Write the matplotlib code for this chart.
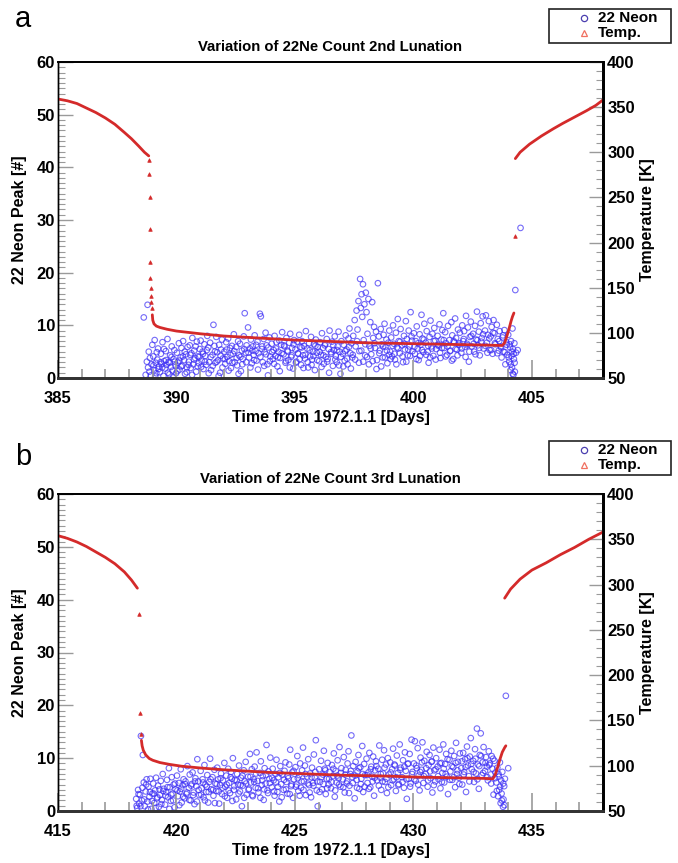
import matplotlib.pyplot as plt
import numpy as np
from matplotlib.lines import Line2D
from matplotlib.patches import Rectangle
from matplotlib.ticker import MultipleLocator

plt.rcParams['font.family'] = ['Liberation Sans Narrow', 'Liberation Sans', 'DejaVu Sans']
plt.rcParams['font.weight'] = 'bold'
plt.rcParams['axes.titleweight'] = 'bold'
plt.rcParams['axes.labelweight'] = 'bold'

# ---------- panel a : 2nd lunation ----------
a_title = 'Variation of 22Ne Count 2nd Lunation'
a_xlim = (385, 408)

# temperature [K], lunar day before sunset
a_day_t = [385.0, 385.4, 385.8, 386.2, 386.6, 387.0, 387.4, 387.8, 388.1, 388.4, 388.65, 388.83]
a_day_k = [359, 357, 354, 349, 344, 338, 331, 322, 315, 307, 300, 296]
# isolated readings during sunset / sunrise
a_jump_t = [388.85, 388.86, 388.87, 388.88, 388.89, 388.90, 388.91, 388.92, 388.94, 388.96, 404.28]
a_jump_k = [292, 276, 251, 215, 178, 161, 150, 141, 134, 127, 207]
# night
a_night_t = [388.98, 389.0, 389.05, 389.15, 389.3, 389.6, 390.0, 390.5, 391.0, 392.0, 393.0, 394.0,
             395.0, 396.0, 397.0, 398.0, 399.0, 400.0, 401.0, 402.0, 403.0, 403.75, 403.85,
             403.95, 404.05, 404.12, 404.18, 404.24]
a_night_k = [120, 114, 110, 107.5, 106, 104, 102, 100.5, 99, 96.5, 95, 93.5,
             92, 91, 90, 89, 88.5, 88, 87.5, 87, 86.5, 86, 89,
             97, 106, 113, 118, 122]
# after sunrise
a_morn_t = [404.3, 404.5, 404.9, 405.4, 405.9, 406.3, 406.8, 407.3, 407.7, 408.0]
a_morn_k = [293, 300, 309, 318, 326, 332, 339, 346, 352, 358]

# 22Ne peak counts (day, count)
a_neon = [
    (388.62, 11.5), (388.70, 0.6), (388.75, 3.1), (388.78, 13.9), (388.80, 2.0), (388.83, 5.0),
    (388.86, 1.2), (388.88, 3.8), (388.92, 0.5), (388.95, 2.6), (388.98, 6.3),
    (389.02, 4.1), (389.05, 1.5), (389.08, 7.2), (389.12, 2.9), (389.15, 0.9), (389.19, 3.5),
    (389.22, 5.6), (389.26, 2.2), (389.30, 1.1), (389.34, 4.6), (389.37, 2.7), (389.41, 6.8),
    (389.45, 0.4), (389.48, 3.2),
    (389.52, 1.8), (389.55, 5.1), (389.58, 2.5), (389.62, 7.4), (389.66, 3.0), (389.70, 0.7),
    (389.73, 4.3), (389.77, 2.1), (389.80, 6.0), (389.84, 1.4), (389.88, 3.6), (389.91, 5.3),
    (389.95, 2.4), (389.98, 0.9),
    (390.02, 4.8), (390.06, 2.9), (390.10, 6.6), (390.13, 1.6), (390.17, 3.9), (390.21, 5.7),
    (390.24, 2.3), (390.28, 7.0), (390.32, 3.4), (390.36, 0.8), (390.40, 4.5), (390.44, 2.0),
    (390.47, 5.9),
    (390.52, 3.1), (390.56, 6.2), (390.60, 1.9), (390.63, 4.7), (390.67, 7.6), (390.71, 2.6),
    (390.75, 5.2), (390.79, 3.8), (390.83, 1.2), (390.86, 6.9), (390.90, 4.1), (390.94, 2.8),
    (390.98, 5.5),
    (391.02, 7.1), (391.06, 3.3), (391.10, 5.0), (391.14, 1.7), (391.18, 6.4), (391.22, 4.2),
    (391.26, 2.5), (391.30, 8.0), (391.34, 5.8), (391.38, 3.0), (391.42, 6.7), (391.46, 1.5),
    (391.52, 4.4), (391.56, 10.1), (391.60, 6.1), (391.64, 2.9), (391.68, 7.8), (391.72, 4.9),
    (391.76, 3.4), (391.80, 6.3), (391.84, 1.0), (391.88, 5.4), (391.92, 7.3), (391.96, 3.7),
    (392.02, 5.0), (392.06, 2.7), (392.10, 6.8), (392.14, 4.0), (392.18, 7.5), (392.22, 3.2),
    (392.26, 5.7), (392.30, 1.9), (392.34, 6.1), (392.38, 4.6), (392.42, 8.3), (392.46, 3.0),
    (392.52, 5.9), (392.56, 2.4), (392.60, 7.0), (392.64, 4.3), (392.68, 6.5), (392.72, 1.3),
    (392.76, 5.2), (392.80, 3.6), (392.84, 7.9), (392.88, 12.3), (392.92, 4.8), (392.96, 6.2),
    (393.02, 9.6), (393.06, 3.9), (393.10, 5.6), (393.14, 7.3), (393.18, 2.8), (393.22, 6.0),
    (393.26, 4.4), (393.30, 8.1), (393.34, 5.1), (393.38, 3.3), (393.42, 6.9), (393.46, 4.7),
    (393.52, 12.2), (393.56, 11.7), (393.60, 5.5), (393.64, 3.0), (393.68, 7.4), (393.72, 4.9),
    (393.76, 8.6), (393.80, 6.2), (393.84, 2.6), (393.88, 5.8), (393.92, 7.7), (393.96, 4.1),
    (394.02, 6.5), (394.06, 3.6), (394.10, 5.3), (394.14, 8.0), (394.18, 4.2), (394.22, 6.8),
    (394.26, 2.2), (394.30, 5.0), (394.34, 7.1), (394.38, 3.8), (394.42, 6.3), (394.46, 8.7),
    (394.52, 4.5), (394.56, 6.0), (394.60, 2.9), (394.64, 7.6), (394.68, 5.2), (394.72, 3.4),
    (394.76, 6.7), (394.80, 8.4), (394.84, 4.0), (394.88, 5.7), (394.92, 1.8), (394.96, 7.2),
    (395.02, 5.4), (395.06, 3.1), (395.10, 6.9), (395.14, 4.6), (395.18, 8.2), (395.22, 5.9),
    (395.26, 2.5), (395.30, 7.0), (395.34, 4.3), (395.38, 6.1), (395.42, 3.7), (395.46, 8.9),
    (395.52, 5.6), (395.56, 2.0), (395.60, 6.6), (395.64, 4.1), (395.68, 7.8), (395.72, 3.5),
    (395.76, 5.0), (395.80, 6.4), (395.84, 1.5), (395.88, 7.3), (395.92, 4.8), (395.96, 5.9),
    (396.02, 3.2), (396.06, 6.8), (396.10, 4.4), (396.14, 8.5), (396.18, 5.7), (396.22, 2.7),
    (396.26, 6.2), (396.30, 4.0), (396.34, 7.4), (396.38, 3.6), (396.42, 5.5), (396.46, 9.0),
    (396.52, 4.9), (396.56, 6.9), (396.60, 2.3), (396.64, 5.3), (396.68, 7.9), (396.72, 4.2),
    (396.76, 3.0), (396.80, 6.0), (396.84, 8.8), (396.88, 5.0), (396.92, 0.8), (396.96, 7.0),
    (397.02, 4.6), (397.06, 6.3), (397.10, 3.3), (397.14, 8.1), (397.18, 5.4), (397.22, 2.6),
    (397.26, 7.5), (397.30, 9.4), (397.34, 4.7), (397.38, 6.6), (397.42, 3.9), (397.46, 8.0),
    (397.52, 11.0), (397.56, 6.0), (397.60, 12.8), (397.64, 9.2), (397.68, 14.6), (397.72, 5.1),
    (397.75, 18.8), (397.78, 13.3), (397.81, 15.9), (397.84, 11.6), (397.87, 17.8), (397.90, 7.2),
    (397.93, 14.0), (397.96, 4.3), (397.99, 16.2),
    (398.02, 12.5), (398.06, 8.4), (398.10, 15.0), (398.14, 6.1), (398.18, 10.6), (398.22, 4.5),
    (398.26, 14.4), (398.30, 7.6), (398.34, 9.7), (398.38, 5.7), (398.42, 8.8), (398.46, 3.4),
    (398.50, 18.0), (398.54, 7.9), (398.58, 5.2), (398.62, 9.3), (398.66, 6.4), (398.70, 3.9),
    (398.74, 8.2), (398.78, 10.3), (398.82, 5.9), (398.86, 7.3), (398.90, 2.8), (398.94, 6.7),
    (398.98, 9.0),
    (399.02, 5.0), (399.06, 7.7), (399.10, 4.1), (399.14, 10.0), (399.18, 6.5), (399.22, 3.5),
    (399.26, 8.6), (399.30, 5.8), (399.34, 11.2), (399.38, 7.0), (399.42, 4.7), (399.46, 9.3),
    (399.52, 6.2), (399.56, 3.0), (399.60, 8.0), (399.64, 5.4), (399.68, 10.8), (399.72, 7.4),
    (399.76, 4.3), (399.80, 9.0), (399.84, 6.0), (399.88, 12.5), (399.92, 7.9), (399.96, 5.1),
    (400.02, 8.5), (400.06, 4.6), (400.10, 7.0), (400.14, 9.8), (400.18, 5.6), (400.22, 3.4),
    (400.26, 8.3), (400.30, 6.3), (400.34, 12.0), (400.38, 7.5), (400.42, 4.9), (400.46, 10.3),
    (400.52, 6.7), (400.56, 8.9), (400.60, 5.0), (400.64, 2.9), (400.68, 7.8), (400.72, 10.9),
    (400.76, 6.0), (400.80, 8.4), (400.84, 4.2), (400.88, 9.5), (400.92, 7.1), (400.96, 5.5),
    (401.02, 8.0), (401.06, 6.1), (401.10, 10.2), (401.14, 3.8), (401.18, 7.3), (401.22, 9.1),
    (401.26, 12.3), (401.30, 5.7), (401.34, 8.7), (401.38, 6.6), (401.42, 4.4), (401.46, 9.9),
    (401.52, 7.2), (401.56, 5.2), (401.60, 10.6), (401.64, 8.1), (401.68, 3.6), (401.72, 6.8),
    (401.76, 11.3), (401.80, 7.6), (401.84, 5.4), (401.88, 9.2), (401.92, 6.3), (401.96, 8.6),
    (402.02, 4.8), (402.06, 10.0), (402.10, 7.0), (402.14, 8.9), (402.18, 5.9), (402.22, 11.8),
    (402.26, 6.5), (402.30, 9.6), (402.34, 3.1), (402.38, 7.8), (402.42, 10.7), (402.46, 6.0),
    (402.52, 8.4), (402.56, 5.0), (402.60, 9.9), (402.64, 7.3), (402.68, 12.6), (402.72, 6.2),
    (402.76, 8.8), (402.80, 4.3), (402.84, 10.4), (402.88, 7.6), (402.92, 11.7), (402.96, 5.6),
    (403.02, 9.0), (403.06, 11.9), (403.10, 6.7), (403.14, 8.2), (403.18, 10.8), (403.22, 5.3),
    (403.26, 7.9), (403.30, 9.7), (403.34, 4.6), (403.38, 11.0), (403.42, 8.5), (403.46, 6.4),
    (403.52, 10.1), (403.56, 7.4), (403.60, 5.2), (403.64, 8.9), (403.68, 6.0), (403.72, 3.9),
    (403.76, 7.7), (403.80, 5.0), (403.84, 9.1), (403.88, 2.6), (403.92, 6.8), (403.96, 4.4),
    (404.00, 8.2), (404.04, 3.1), (404.08, 5.8), (404.10, 1.5), (404.12, 7.0), (404.14, 4.2),
    (404.16, 2.0), (404.18, 9.4), (404.20, 5.5), (404.22, 0.6), (404.24, 3.6), (404.26, 6.6),
    (404.28, 1.2), (404.30, 16.7), (404.33, 4.8), (404.40, 5.3), (404.52, 28.5),
    # denser lower band
    (389.03, 2.4), (389.10, 0.3), (389.17, 4.9), (389.24, 1.7), (389.33, 3.0), (389.40, 2.0),
    (389.47, 5.5), (389.56, 3.4), (389.64, 1.0), (389.71, 2.9), (389.79, 4.0), (389.86, 0.2),
    (389.93, 3.1), (390.04, 1.3), (390.12, 3.3), (390.19, 2.2), (390.27, 4.1), (390.35, 5.0),
    (390.43, 1.1), (390.51, 2.5), (390.58, 4.4), (390.66, 0.6), (390.74, 3.5), (390.81, 6.0),
    (390.89, 2.2), (390.96, 4.0), (391.04, 2.1), (391.12, 4.6), (391.20, 3.1), (391.28, 5.3),
    (391.36, 0.9), (391.44, 4.0), (391.53, 2.3), (391.62, 5.0), (391.70, 3.1), (391.78, 0.4),
    (391.86, 4.2), (391.94, 2.0), (392.04, 3.6), (392.12, 5.4), (392.20, 1.4), (392.28, 4.4),
    (392.36, 2.9), (392.44, 5.1), (392.54, 3.8), (392.62, 0.8), (392.70, 4.0), (392.78, 2.6),
    (392.86, 5.5), (392.94, 3.0), (393.04, 4.8), (393.12, 2.0), (393.20, 5.2), (393.28, 3.4),
    (393.36, 6.3), (393.44, 1.6), (393.54, 4.0), (393.62, 6.0), (393.70, 2.3), (393.78, 4.5),
    (393.86, 0.5), (393.94, 3.2), (394.04, 4.9), (394.12, 2.7), (394.20, 5.6), (394.28, 3.9),
    (394.36, 1.3), (394.44, 4.7), (394.54, 6.2), (394.62, 3.2), (394.70, 5.0), (394.78, 2.0),
    (394.86, 4.3), (394.94, 6.4), (395.04, 2.9), (395.12, 4.7), (395.20, 3.6), (395.28, 5.8),
    (395.36, 1.9), (395.44, 4.4), (395.54, 3.0), (395.62, 5.3), (395.70, 2.5), (395.78, 4.2),
    (395.86, 6.1), (395.94, 3.4), (396.04, 5.0), (396.12, 2.1), (396.20, 4.3), (396.28, 6.5),
    (396.36, 3.1), (396.44, 1.0), (396.54, 4.6), (396.62, 6.2), (396.70, 3.5), (396.78, 5.3),
    (396.86, 2.4), (396.94, 4.0), (397.04, 2.2), (397.12, 5.1), (397.20, 3.7), (397.28, 5.9),
    (397.36, 1.8), (397.44, 4.4), (397.54, 3.5), (397.62, 7.0), (397.70, 2.9), (397.80, 5.2),
    (397.88, 3.1), (397.97, 6.4), (398.04, 4.0), (398.12, 2.6), (398.20, 5.6), (398.28, 3.2),
    (398.36, 6.6), (398.44, 1.7), (398.56, 4.7), (398.64, 2.2), (398.72, 6.0), (398.80, 3.9),
    (398.88, 5.2), (398.96, 4.4), (399.04, 3.6), (399.12, 6.1), (399.20, 4.6), (399.28, 2.6),
    (399.36, 5.6), (399.44, 6.9), (399.54, 4.1), (399.62, 6.5), (399.70, 3.1), (399.78, 5.4),
    (399.86, 4.2), (399.94, 7.1), (400.04, 5.9), (400.12, 3.6), (400.20, 6.6), (400.28, 4.2),
    (400.36, 5.3), (400.44, 7.3), (400.54, 4.4), (400.62, 6.1), (400.70, 3.9), (400.78, 5.6),
    (400.86, 7.0), (400.94, 3.5), (401.04, 6.3), (401.12, 4.8), (401.20, 5.7), (401.28, 7.2),
    (401.36, 4.1), (401.44, 6.0), (401.54, 5.1), (401.62, 3.3), (401.70, 7.0), (401.78, 5.5),
    (401.86, 4.3), (401.94, 6.6), (402.04, 5.6), (402.12, 7.4), (402.20, 4.0), (402.28, 6.2),
    (402.36, 5.0), (402.44, 8.0), (402.54, 6.5), (402.62, 4.5), (402.70, 7.2), (402.78, 5.7),
    (402.86, 6.9), (402.94, 8.3), (403.04, 6.1), (403.12, 4.8), (403.20, 7.5), (403.28, 5.3),
    (403.36, 8.6), (403.44, 6.6), (403.54, 4.7), (403.62, 7.0), (403.70, 5.8), (403.78, 8.1),
    (403.86, 4.9), (403.94, 6.3), (404.02, 3.9), (404.06, 6.4), (404.11, 2.6), (404.15, 5.0),
    (404.19, 0.8), (404.23, 4.6), (404.27, 2.9),
]

# ---------- panel b : 3rd lunation ----------
b_title = 'Variation of 22Ne Count 3rd Lunation'
b_xlim = (415, 438)

b_day_t = [415.0, 415.4, 415.8, 416.2, 416.6, 417.0, 417.4, 417.8, 418.1, 418.35]
b_day_k = [354, 351, 347, 342, 336, 330, 323, 314, 305, 296]
b_jump_t = [418.42, 418.45, 418.50]
b_jump_k = [268, 158, 135]
b_night_t = [418.52, 418.55, 418.6, 418.7, 418.85, 419.0, 419.3, 419.7, 420.2, 421.0, 422.0,
             423.0, 424.0, 425.0, 426.0, 427.0, 428.0, 429.0, 430.0, 431.0, 432.0, 433.0,
             433.35, 433.45, 433.55, 433.65, 433.75, 433.85, 433.9]
b_night_k = [128, 122, 117, 112, 108, 106, 103.5, 101.5, 99.5, 97.5, 95.5,
             94, 92.5, 91.5, 90.5, 89.5, 89, 88.5, 87.5, 87, 86.5, 86,
             85.5, 90, 98, 107, 115, 120, 122]
b_morn_t = [433.85, 434.1, 434.5, 435.0, 435.6, 436.2, 436.8, 437.4, 438.0]
b_morn_k = [285, 295, 306, 316, 324, 333, 341, 350, 358]

b_neon = [
    (418.30, 2.3), (418.34, 0.6), (418.38, 4.0), (418.42, 1.4), (418.46, 3.1), (418.50, 14.2),
    (418.54, 2.0), (418.58, 10.6), (418.62, 5.4), (418.66, 0.9), (418.70, 3.7), (418.74, 6.0),
    (418.78, 1.8), (418.82, 4.6), (418.86, 2.7), (418.90, 6.1), (418.94, 0.4), (418.98, 3.3),
    (419.02, 5.2), (419.06, 1.5), (419.10, 3.9), (419.14, 6.3), (419.18, 2.4), (419.22, 4.8),
    (419.26, 0.8), (419.30, 3.0), (419.34, 5.7), (419.38, 2.1), (419.42, 7.0), (419.46, 4.2),
    (419.52, 1.2), (419.56, 3.6), (419.60, 5.9), (419.64, 2.6), (419.68, 8.1), (419.72, 4.5),
    (419.76, 1.9), (419.80, 6.4), (419.84, 3.3), (419.88, 5.0), (419.92, 0.7), (419.96, 4.1),
    (420.02, 6.7), (420.06, 2.8), (420.10, 5.3), (420.14, 3.7), (420.18, 7.9), (420.22, 1.6),
    (420.26, 4.9), (420.30, 6.0), (420.34, 2.4), (420.38, 5.6), (420.42, 3.2), (420.46, 8.5),
    (420.52, 4.4), (420.56, 6.9), (420.60, 2.0), (420.64, 5.1), (420.68, 7.3), (420.72, 3.5),
    (420.76, 1.3), (420.80, 6.2), (420.84, 4.7), (420.88, 9.8), (420.92, 5.6), (420.96, 3.0),
    (421.02, 7.6), (421.06, 4.3), (421.10, 6.0), (421.14, 2.6), (421.18, 8.7), (421.22, 5.0),
    (421.26, 3.6), (421.30, 6.8), (421.34, 1.6), (421.38, 5.5), (421.42, 9.9), (421.46, 4.1),
    (421.52, 6.4), (421.56, 2.9), (421.60, 7.8), (421.64, 5.2), (421.68, 3.8), (421.72, 8.2),
    (421.76, 6.0), (421.80, 1.4), (421.84, 4.9), (421.88, 7.1), (421.92, 3.2), (421.96, 5.8),
    (422.02, 9.1), (422.06, 4.6), (422.10, 6.7), (422.14, 2.5), (422.18, 8.0), (422.22, 5.3),
    (422.26, 3.4), (422.30, 7.4), (422.34, 6.1), (422.38, 10.0), (422.42, 4.0), (422.46, 5.9),
    (422.52, 2.2), (422.56, 7.0), (422.60, 5.0), (422.64, 8.6), (422.68, 3.7), (422.72, 6.3),
    (422.76, 0.9), (422.80, 4.8), (422.84, 7.7), (422.88, 5.6), (422.92, 9.3), (422.96, 3.1),
    (423.02, 6.5), (423.06, 4.2), (423.10, 10.8), (423.14, 5.4), (423.18, 7.9), (423.22, 2.8),
    (423.26, 6.0), (423.30, 8.4), (423.34, 4.4), (423.38, 11.1), (423.42, 5.7), (423.46, 3.5),
    (423.52, 7.2), (423.56, 9.4), (423.60, 4.9), (423.64, 6.6), (423.68, 2.1), (423.72, 8.1),
    (423.76, 5.2), (423.80, 12.5), (423.84, 3.9), (423.88, 7.5), (423.92, 6.1), (423.96, 10.1),
    (424.02, 4.5), (424.06, 8.0), (424.10, 5.8), (424.14, 2.9), (424.18, 7.0), (424.22, 9.7),
    (424.26, 3.6), (424.30, 6.4), (424.34, 1.8), (424.38, 8.5), (424.42, 5.1), (424.46, 6.9),
    (424.52, 4.0), (424.56, 7.6), (424.60, 9.2), (424.64, 5.5), (424.68, 3.3), (424.72, 6.2),
    (424.76, 8.8), (424.80, 11.6), (424.84, 4.7), (424.88, 7.3), (424.92, 2.5), (424.96, 6.0),
    (425.02, 8.3), (425.06, 5.0), (425.10, 10.4), (425.14, 3.8), (425.18, 6.8), (425.22, 9.0),
    (425.26, 4.4), (425.30, 7.7), (425.34, 12.0), (425.38, 5.6), (425.42, 8.6), (425.46, 3.0),
    (425.52, 6.5), (425.56, 9.8), (425.60, 4.9), (425.64, 7.1), (425.68, 2.6), (425.72, 8.2),
    (425.76, 5.3), (425.80, 10.7), (425.84, 6.3), (425.88, 13.4), (425.92, 3.9), (425.96, 0.9),
    (426.02, 7.9), (426.06, 5.5), (426.10, 9.5), (426.14, 4.1), (426.18, 6.9), (426.22, 11.4),
    (426.26, 8.0), (426.30, 3.2), (426.34, 6.1), (426.38, 9.1), (426.42, 5.0), (426.46, 7.4),
    (426.52, 4.3), (426.56, 8.7), (426.60, 6.6), (426.64, 10.9), (426.68, 2.7), (426.72, 7.6),
    (426.76, 5.4), (426.80, 9.6), (426.84, 6.2), (426.88, 12.1), (426.92, 4.6), (426.96, 8.1),
    (427.02, 6.0), (427.06, 10.2), (427.10, 3.5), (427.14, 7.8), (427.18, 5.2), (427.22, 9.0),
    (427.26, 11.3), (427.30, 4.8), (427.34, 7.0), (427.38, 14.3), (427.42, 6.4), (427.46, 8.5),
    (427.52, 2.4), (427.56, 9.3), (427.60, 5.9), (427.64, 7.5), (427.68, 10.6), (427.72, 4.2),
    (427.76, 8.3), (427.80, 6.1), (427.84, 12.3), (427.88, 3.6), (427.92, 8.9), (427.96, 6.8),
    (428.02, 9.9), (428.06, 5.3), (428.10, 7.3), (428.14, 11.0), (428.18, 4.5), (428.22, 8.4),
    (428.26, 6.5), (428.30, 10.3), (428.34, 2.9), (428.38, 7.7), (428.42, 9.4), (428.46, 5.8),
    (428.52, 8.0), (428.56, 12.4), (428.60, 6.3), (428.64, 4.0), (428.68, 9.7), (428.72, 7.1),
    (428.76, 11.5), (428.80, 5.5), (428.84, 8.8), (428.88, 3.4), (428.92, 10.0), (428.96, 6.9),
    (429.02, 9.2), (429.06, 4.9), (429.10, 7.9), (429.14, 11.8), (429.18, 6.0), (429.22, 8.6),
    (429.26, 3.8), (429.30, 10.5), (429.34, 7.2), (429.38, 5.1), (429.42, 12.6), (429.46, 8.2),
    (429.52, 6.4), (429.56, 9.6), (429.60, 4.4), (429.64, 11.1), (429.68, 7.6), (429.72, 2.3),
    (429.76, 8.9), (429.80, 6.1), (429.84, 10.8), (429.88, 5.2), (429.92, 13.5), (429.96, 7.4),
    (430.02, 9.0), (430.06, 13.2), (430.10, 5.7), (430.14, 8.1), (430.18, 11.9), (430.22, 6.7),
    (430.26, 3.9), (430.30, 10.1), (430.34, 7.8), (430.38, 13.0), (430.42, 5.3), (430.46, 9.5),
    (430.52, 7.0), (430.56, 11.2), (430.60, 4.6), (430.64, 8.7), (430.68, 10.6), (430.72, 6.2),
    (430.76, 9.3), (430.80, 3.5), (430.84, 12.0), (430.88, 7.7), (430.92, 5.6), (430.96, 10.0),
    (431.02, 8.4), (431.06, 6.0), (431.10, 11.6), (431.14, 4.3), (431.18, 9.1), (431.22, 7.2),
    (431.26, 12.6), (431.30, 5.4), (431.34, 8.9), (431.38, 10.8), (431.42, 6.5), (431.46, 3.2),
    (431.52, 9.7), (431.56, 7.5), (431.60, 11.4), (431.64, 5.9), (431.68, 8.3), (431.72, 10.4),
    (431.76, 4.5), (431.80, 12.9), (431.84, 7.0), (431.88, 9.3), (431.92, 6.3), (431.96, 10.9),
    (432.02, 8.1), (432.06, 5.0), (432.10, 11.0), (432.14, 7.4), (432.18, 9.8), (432.22, 3.6),
    (432.26, 12.2), (432.30, 8.6), (432.34, 6.6), (432.38, 10.3), (432.42, 13.8), (432.46, 7.9),
    (432.52, 9.5), (432.56, 5.5), (432.60, 11.7), (432.64, 7.1), (432.68, 15.6), (432.72, 8.8),
    (432.76, 4.2), (432.80, 10.6), (432.84, 14.7), (432.88, 6.8), (432.92, 9.2), (432.96, 12.1),
    (433.02, 7.6), (433.06, 10.2), (433.10, 8.4), (433.14, 5.8), (433.18, 11.3), (433.22, 9.0),
    (433.26, 6.9), (433.30, 10.4), (433.34, 8.0), (433.38, 3.1), (433.42, 9.5), (433.46, 7.3),
    (433.50, 5.4), (433.54, 8.2), (433.57, 2.8), (433.60, 6.5), (433.62, 4.0), (433.65, 9.2),
    (433.68, 1.5), (433.70, 5.8), (433.72, 3.3), (433.75, 7.4), (433.78, 0.8), (433.80, 2.2),
    (433.83, 4.7), (433.86, 6.1), (433.90, 21.8), (434.00, 8.1),
    # denser lower band
    (418.32, 1.0), (418.40, 3.2), (418.48, 0.9), (418.56, 4.4), (418.64, 2.2), (418.72, 5.0),
    (418.80, 0.3), (418.88, 3.6), (418.96, 1.9), (419.04, 3.3), (419.12, 0.6), (419.20, 2.6),
    (419.28, 4.1), (419.36, 1.3), (419.44, 3.8), (419.54, 2.9), (419.62, 4.5), (419.70, 0.4),
    (419.78, 3.1), (419.86, 2.0), (419.94, 5.2), (420.04, 3.9), (420.12, 1.1), (420.20, 4.2),
    (420.28, 2.7), (420.36, 5.1), (420.44, 3.5), (420.54, 2.1), (420.62, 4.8), (420.70, 3.0),
    (420.78, 5.6), (420.86, 1.8), (420.94, 4.0), (421.04, 3.1), (421.12, 5.4), (421.20, 2.0),
    (421.28, 4.6), (421.36, 3.6), (421.44, 6.0), (421.54, 4.0), (421.62, 1.5), (421.70, 5.1),
    (421.78, 3.7), (421.86, 6.2), (421.94, 4.4), (422.04, 2.8), (422.12, 5.0), (422.20, 3.9),
    (422.28, 6.4), (422.36, 1.9), (422.44, 4.7), (422.54, 5.8), (422.62, 3.3), (422.70, 4.9),
    (422.78, 6.7), (422.86, 2.5), (422.94, 5.2), (423.04, 4.0), (423.12, 6.5), (423.20, 3.0),
    (423.28, 5.5), (423.36, 7.1), (423.44, 4.3), (423.54, 2.5), (423.62, 5.8), (423.70, 4.1),
    (423.78, 6.8), (423.86, 3.4), (423.94, 5.3), (424.04, 6.3), (424.12, 3.7), (424.20, 5.4),
    (424.28, 4.6), (424.36, 7.2), (424.44, 2.6), (424.54, 5.9), (424.62, 4.1), (424.70, 6.6),
    (424.78, 3.2), (424.86, 5.0), (424.94, 7.6), (425.04, 4.6), (425.12, 6.2), (425.20, 2.9),
    (425.28, 5.6), (425.36, 4.0), (425.44, 7.0), (425.54, 5.2), (425.62, 3.5), (425.70, 6.4),
    (425.78, 4.8), (425.86, 7.4), (425.94, 5.6), (426.04, 3.6), (426.12, 6.4), (426.20, 5.1),
    (426.28, 7.7), (426.36, 4.3), (426.44, 6.1), (426.54, 5.5), (426.62, 8.0), (426.70, 3.9),
    (426.78, 6.7), (426.86, 5.0), (426.94, 7.2), (427.04, 4.5), (427.12, 6.9), (427.20, 5.6),
    (427.28, 3.4), (427.36, 7.6), (427.44, 5.3), (427.54, 6.7), (427.62, 4.4), (427.70, 8.1),
    (427.78, 5.1), (427.86, 7.0), (427.94, 4.6), (428.04, 6.8), (428.12, 4.2), (428.20, 7.9),
    (428.28, 5.6), (428.36, 6.3), (428.44, 8.5), (428.54, 4.8), (428.62, 7.0), (428.70, 5.6),
    (428.78, 8.2), (428.86, 6.1), (428.94, 4.5), (429.04, 7.3), (429.12, 5.8), (429.20, 8.8),
    (429.28, 6.4), (429.36, 4.9), (429.44, 7.8), (429.54, 5.5), (429.62, 8.4), (429.70, 6.0),
    (429.78, 9.0), (429.86, 4.6), (429.94, 7.0), (430.04, 6.0), (430.12, 8.6), (430.20, 5.0),
    (430.28, 7.4), (430.36, 9.2), (430.44, 6.6), (430.54, 8.1), (430.62, 5.8), (430.70, 7.5),
    (430.78, 9.4), (430.86, 4.9), (430.94, 7.9), (431.04, 6.6), (431.12, 9.0), (431.20, 5.5),
    (431.28, 8.0), (431.36, 7.0), (431.44, 9.8), (431.54, 5.9), (431.62, 8.5), (431.70, 6.4),
    (431.78, 9.1), (431.86, 7.7), (431.94, 5.1), (432.04, 9.4), (432.12, 6.9), (432.20, 8.3),
    (432.28, 10.0), (432.36, 5.6), (432.44, 8.9), (432.54, 7.4), (432.62, 9.9), (432.70, 6.0),
    (432.78, 8.5), (432.86, 10.4), (432.94, 7.2), (433.04, 9.1), (433.12, 6.4), (433.20, 8.7),
    (433.28, 5.2), (433.36, 9.9), (433.44, 6.2), (433.52, 3.8), (433.59, 7.0), (433.66, 4.6),
    (433.73, 2.0), (433.79, 5.2), (433.84, 1.1),
]

neon_color = '#3a2cf5'
temp_color = '#d42a2a'
tick_gray = '#9a9a9a'


def draw_panel(rect, letter, letter_y, legend_y, title, xlim, day, jump, night, morn, neon):
    ax1 = fig.add_axes(rect)
    ax2 = ax1.twinx()

    nt = [p[0] for p in neon]
    nv = [p[1] for p in neon]
    ax1.scatter(nt, nv, s=16, facecolors='none', edgecolors=neon_color,
                linewidths=0.8, alpha=0.7)

    # temperature: continuous parts as a line, sparse readings as triangles
    for t, k in (day, night, morn):
        ax2.plot(t, k, color=temp_color, lw=2.0, solid_capstyle='round')
    ax2.plot(jump[0], jump[1], ls='none', marker='^', ms=2.6, color=temp_color, mew=0.5)

    ax1.set_xlim(*xlim)
    ax1.set_ylim(0, 60)
    ax2.set_ylim(50, 400)

    ax1.xaxis.set_major_locator(MultipleLocator(5))
    ax1.xaxis.set_minor_locator(MultipleLocator(1))
    ax1.yaxis.set_major_locator(MultipleLocator(10))
    ax1.yaxis.set_minor_locator(MultipleLocator(1))
    ax2.yaxis.set_major_locator(MultipleLocator(50))
    ax2.yaxis.set_minor_locator(MultipleLocator(10))

    ax1.tick_params(axis='x', which='major', direction='in', length=13, width=1.2,
                    color=tick_gray, pad=9, labelsize=12)
    ax1.tick_params(axis='x', which='minor', direction='in', length=6.5, width=1.2, color=tick_gray)
    ax1.tick_params(axis='y', which='major', direction='in', length=11, width=1,
                    color=tick_gray, pad=2, labelsize=12)
    ax1.tick_params(axis='y', which='minor', direction='in', length=5, width=0.8, color=tick_gray)
    ax2.tick_params(axis='y', which='major', direction='in', length=10, width=1,
                    color=tick_gray, pad=3, labelsize=12)
    ax2.tick_params(axis='y', which='minor', direction='in', length=5, width=0.8, color=tick_gray)

    for ax in (ax1, ax2):
        ax.spines['top'].set_linewidth(1.3)
        ax.spines['bottom'].set_linewidth(2.0)
        ax.spines['right'].set_linewidth(2.0)
        ax.spines['left'].set_linewidth(1.0)
        ax.spines['bottom'].set_color('#333333')

    ax1.set_title(title, fontsize=10.7, pad=8)
    ax1.set_xlabel('Time from 1972.1.1 [Days]', fontsize=11.5, labelpad=3)
    ax1.set_ylabel('22 Neon Peak [#]', fontsize=11.5, labelpad=7)
    ax2.set_ylabel('Temperature [K]', fontsize=11.5, labelpad=4)

    # panel letter
    fig.text(15 / W, 1 - letter_y / H, letter, fontsize=21, fontweight='normal',
             family=['Liberation Sans', 'DejaVu Sans'], va='baseline')

    # legend box at the top right corner
    fig.add_artist(Rectangle((549 / W, 1 - (legend_y + 34) / H), 122 / W, 34 / H,
                             transform=fig.transFigure, fill=False, ec='#222222', lw=1.2))
    fig.add_artist(Line2D([584 / W], [1 - (legend_y + 9) / H], transform=fig.transFigure,
                          marker='o', ms=4.5, mfc='none', mec='#4b3fb0', mew=0.9, ls='none'))
    fig.add_artist(Line2D([584 / W], [1 - (legend_y + 24) / H], transform=fig.transFigure,
                          marker='^', ms=4.5, mfc='none', mec='#f07060', mew=0.9, ls='none'))
    fig.text(598 / W, 1 - (legend_y + 9) / H, '22 Neon', fontsize=11, va='center')
    fig.text(598 / W, 1 - (legend_y + 24) / H, 'Temp.', fontsize=11, va='center')
    return ax1, ax2


W, H = 678, 863
fig = plt.figure(figsize=(W / 100, H / 100), dpi=100)

draw_panel([58 / W, 1 - 378 / H, 545 / W, 316 / H], 'a', 27, 9, a_title, a_xlim,
           (a_day_t, a_day_k), (a_jump_t, a_jump_k), (a_night_t, a_night_k),
           (a_morn_t, a_morn_k), a_neon)
draw_panel([58 / W, 1 - 811 / H, 545 / W, 317 / H], 'b', 465, 441, b_title, b_xlim,
           (b_day_t, b_day_k), (b_jump_t, b_jump_k), (b_night_t, b_night_k),
           (b_morn_t, b_morn_k), b_neon)

fig.savefig('out.png', dpi=100)
